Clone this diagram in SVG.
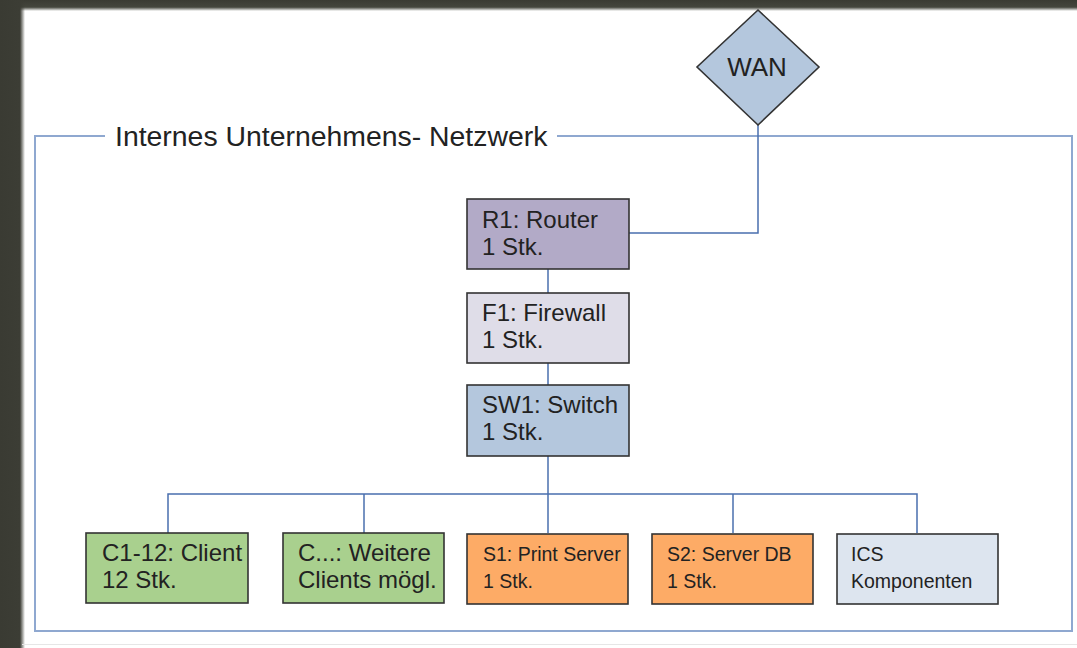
<svg xmlns="http://www.w3.org/2000/svg" width="1077" height="648" viewBox="0 0 1077 648">
  <defs>
    <linearGradient id="edgeLeft" x1="0" y1="0" x2="1" y2="0">
      <stop offset="0" stop-color="#3a3b33"/>
      <stop offset="0.8" stop-color="#3c3d35"/>
      <stop offset="1" stop-color="#3c3d35" stop-opacity="0"/>
    </linearGradient>
    <linearGradient id="edgeTop" x1="0" y1="0" x2="0" y2="1">
      <stop offset="0" stop-color="#3a3b33"/>
      <stop offset="0.65" stop-color="#44463d"/>
      <stop offset="1" stop-color="#44463d" stop-opacity="0"/>
    </linearGradient>
    <style>
      .box { stroke: #333333; stroke-width: 1.6; }
      .router { fill: #b2aac7; }
      .firewall { fill: #dfdde8; }
      .switch { fill: #b4c7dd; }
      .client { fill: #a9d08e; }
      .server { fill: #fdab66; }
      .ics { fill: #dde5ef; }
      .lbl { font-family: "Liberation Sans", Arial, sans-serif; fill: #222222; }
      .big { font-size: 24px; }
      .small { font-size: 19.5px; }
      .wire { fill: none; stroke: #4a6fae; stroke-width: 1.5; }
      .frame { fill: none; stroke: #8fa8d0; stroke-width: 2; }
    </style>
  </defs>

  <!-- page background and dark window edges -->
  <rect x="0" y="0" width="1077" height="648" fill="#ffffff"/>
  <rect x="0" y="0" width="1077" height="11" fill="url(#edgeTop)"/>
  <rect x="0" y="0" width="25" height="648" fill="url(#edgeLeft)"/>
  <line x1="22" y1="644.5" x2="1077" y2="644.5" stroke="#e6e6e6" stroke-width="1"/>

  <!-- network boundary with its caption -->
  <g id="network-frame">
    <path class="frame" d="M105,136 H35 V631 H1072 V136 H557"/>
    <text class="lbl" x="115" y="146" font-size="28.4">Internes Unternehmens- Netzwerk</text>
  </g>

  <!-- connectors -->
  <g id="connectors">
    <path class="wire" d="M758,125 V233 H629"/>
    <path class="wire" d="M548,269 V293"/>
    <path class="wire" d="M548,363 V385"/>
    <path class="wire" d="M548,456 V494"/>
    <path class="wire" d="M168,533 V494 H917 V533"/>
    <path class="wire" d="M364,494 V533"/>
    <path class="wire" d="M548,494 V533"/>
    <path class="wire" d="M733,494 V533"/>
  </g>

  <g id="wan">
    <polygon class="box switch" points="758,10 819,67 758,125 697,67"/>
    <text class="lbl" x="757" y="76" font-size="26" text-anchor="middle">WAN</text>
  </g>

  <g id="router">
    <rect class="box router" x="467" y="199" width="162" height="70"/>
    <text class="lbl big" x="482" y="228">R1: Router</text>
    <text class="lbl big" x="482" y="255">1 Stk.</text>
  </g>

  <g id="firewall">
    <rect class="box firewall" x="467" y="293" width="162" height="70"/>
    <text class="lbl big" x="482" y="321">F1: Firewall</text>
    <text class="lbl big" x="482" y="348">1 Stk.</text>
  </g>

  <g id="switch">
    <rect class="box switch" x="467" y="385" width="162" height="71"/>
    <text class="lbl big" x="482" y="413">SW1: Switch</text>
    <text class="lbl big" x="482" y="440">1 Stk.</text>
  </g>

  <g id="clients">
    <rect class="box client" x="86" y="533" width="162" height="70"/>
    <text class="lbl big" x="102" y="561">C1-12: Client</text>
    <text class="lbl big" x="102" y="588">12 Stk.</text>
  </g>

  <g id="more-clients">
    <rect class="box client" x="283" y="533" width="161" height="70"/>
    <text class="lbl big" x="298" y="561">C...: Weitere</text>
    <text class="lbl big" x="298" y="588">Clients mögl.</text>
  </g>

  <g id="print-server">
    <rect class="box server" x="467" y="534" width="161" height="70"/>
    <text class="lbl small" x="483" y="561">S1: Print Server</text>
    <text class="lbl small" x="483" y="588">1 Stk.</text>
  </g>

  <g id="db-server">
    <rect class="box server" x="652" y="534" width="161" height="70"/>
    <text class="lbl small" x="667" y="561">S2: Server DB</text>
    <text class="lbl small" x="667" y="588">1 Stk.</text>
  </g>

  <g id="ics">
    <rect class="box ics" x="837" y="534" width="161" height="70"/>
    <text class="lbl small" x="851" y="561">ICS</text>
    <text class="lbl small" x="851" y="588">Komponenten</text>
  </g>
</svg>
